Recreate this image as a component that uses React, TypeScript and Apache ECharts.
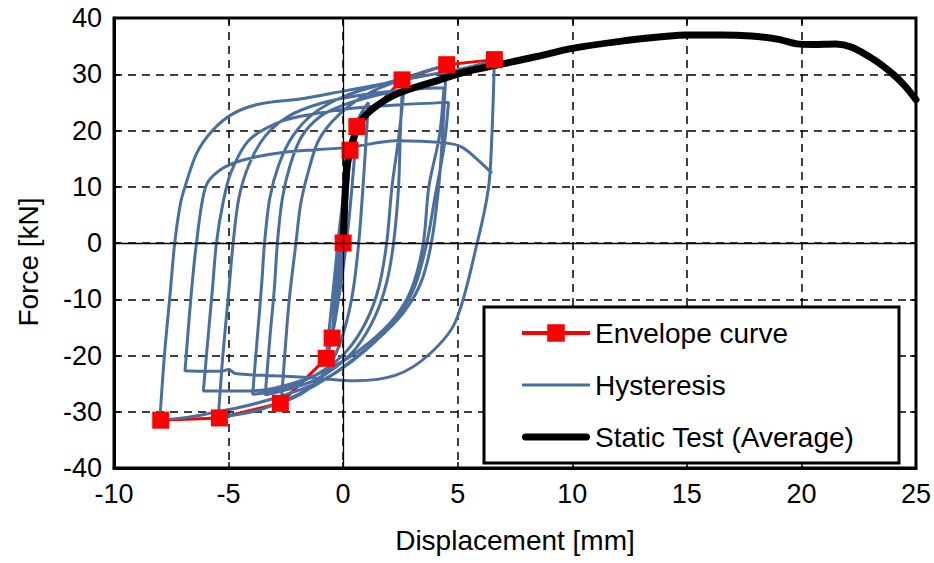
import React, { useEffect, useRef } from "react";
import * as echarts from "echarts";

type P = [number, number];

const xMin = -10;
const xMax = 25;
const xStep = 5;
const yMin = -40;
const yMax = 40;
const yStep = 10;

const envelope: P[] = [
  [-7.96, -31.5], [-5.4, -31.1], [-2.74, -28.5], [-0.74, -20.5], [-0.48, -16.9],
  [0, 0], [0.3, 16.5], [0.6, 20.7], [2.57, 29], [4.52, 31.7], [6.6, 32.6],
];

const staticTest: P[] = [
  [0, 0], [0.05, 5], [0.1, 10], [0.2, 14.5], [0.4, 18], [0.8, 21.8], [1.4, 24.2],
  [2.4, 26.6], [3.9, 28.6], [5.3, 30.4], [6.8, 31.7], [8.5, 33.2], [10, 34.6],
  [12, 35.8], [14, 36.7], [15, 37], [16.5, 37], [17.8, 36.8], [19, 36.2], [19.8, 35.4],
  [20.5, 35.3], [21.5, 35.4], [22.2, 34.8], [23.2, 32.5], [24, 30], [24.5, 28], [25, 25.5],
];

// Hysteresis branches (in test order)
const h1: P[] = [[0, 0], [0.08, 6], [0.18, 12], [0.3, 16.5]];
const h2: P[] = [[0.3, 16.5], [0.18, 9], [0.05, 2], [-0.1, -5], [-0.28, -11], [-0.48, -16.9]];
const h3: P[] = [[-0.48, -16.9], [-0.36, -10], [-0.22, -3], [-0.05, 4], [0.12, 10], [0.3, 15.5]];
const h4: P[] = [[0.3, 15.5], [0.15, 8], [0, 1], [-0.15, -5], [-0.3, -11], [-0.45, -15.5]];
const h5: P[] = [[-0.45, -15.5], [-0.3, -8], [-0.12, 0], [0.08, 8], [0.3, 14.5], [0.45, 18], [0.6, 20.7]];
const h6: P[] = [[0.6, 20.7], [0.45, 13], [0.25, 4], [0.05, -3], [-0.2, -10], [-0.45, -16], [-0.74, -20.5]];
const h7: P[] = [[-0.74, -20.5], [-0.55, -13], [-0.35, -5], [-0.15, 3], [0.1, 11], [0.35, 17.5], [0.65, 22], [1.1, 25]];
const h8: P[] = [[1.1, 25], [0.98, 17], [0.85, 9], [0.68, 0], [0.45, -8], [0.15, -14], [-0.3, -19.5], [-0.9, -23.5], [-1.7, -26.5], [-2.7, -28.5]];
const h9: P[] = [[-2.7, -28.5], [-2.55, -20], [-2.35, -10], [-2.06, 0], [-1.85, 7], [-1.5, 13], [-1.1, 18], [-0.5, 21.5], [0.3, 24.5], [1.2, 26.8], [2, 28.2], [2.6, 29]];
const h10: P[] = [[2.6, 29], [2.5, 20], [2.42, 10], [2.2, 0], [1.9, -7], [1.4, -13], [0.6, -18.5], [-0.3, -22], [-1.3, -24.5], [-2.4, -26], [-3.4, -27]];
const h11: P[] = [[-3.4, -27], [-3.2, -17], [-3.0, -8], [-2.87, 0], [-2.65, 8], [-2.3, 14], [-1.8, 19], [-1.0, 22.5], [0, 24.5], [1.2, 26], [2.1, 26.8], [2.65, 27]];
const h12: P[] = [[2.65, 27], [2.4, 18], [2.13, 10], [1.9, 0], [1.55, -8], [1.0, -14], [0.2, -19], [-0.8, -22.5], [-2, -25], [-3, -26.3], [-3.95, -26.9]];
const h13: P[] = [[-3.95, -26.9], [-3.75, -17], [-3.55, -7], [-3.43, 0], [-3.2, 8], [-2.8, 14], [-2.2, 19], [-1.3, 23], [0, 26], [1.5, 28], [2.8, 29.5], [3.8, 30.8], [4.5, 31.5]];
const h14: P[] = [[4.5, 31.5], [4.35, 20], [4.17, 10], [3.85, 0], [3.4, -7], [2.7, -12], [1.8, -16], [0.8, -19.5], [-0.5, -23.5], [-2, -27], [-3.5, -29.5], [-4.6, -30.5], [-5.45, -31]];
const h15: P[] = [[-5.45, -31], [-5.25, -20], [-5.0, -9], [-4.8, 0], [-4.55, 8], [-4.1, 14], [-3.4, 19], [-2.4, 22.5], [-1, 24.8], [0.8, 26.3], [2.5, 27.1], [3.6, 27.5], [4.4, 27.6]];
const h16: P[] = [[4.4, 27.6], [4.2, 19], [3.74, 10], [3.5, 0], [3.0, -8], [2.3, -13], [1.2, -17.5], [0, -21], [-1.5, -24], [-3, -25.8], [-4.1, -26.3], [-6.1, -26.3]];
const h17: P[] = [[-6.1, -26.3], [-5.9, -17], [-5.7, -8], [-5.53, 0], [-5.25, 7], [-4.9, 12.5], [-4.1, 18.3], [-2.65, 21.7], [-1.2, 23], [0.5, 24], [2.5, 24.6], [4.6, 25]];
const h18: P[] = [[4.6, 25], [4.4, 17], [4.0, 8], [3.65, 0], [3.1, -8], [2.2, -14], [1.0, -19], [-0.3, -23], [-1.5, -25.5], [-3, -27.6], [-4.5, -29.2], [-5.5, -30], [-6.8, -31], [-8, -31.5]];
const h19: P[] = [[-8, -31.5], [-7.8, -20], [-7.55, -9], [-7.35, 0], [-7.1, 7], [-6.9, 10], [-6.4, 15.9], [-5.7, 20], [-4.8, 23], [-3.65, 24.7], [-1.9, 25.6], [0, 27], [2, 28.5], [3.5, 29.7], [5, 30.8], [6, 31.8], [6.6, 32.6]];
const h20: P[] = [[6.6, 32.6], [6.5, 20], [6.35, 10], [5.85, 0], [4.9, -14], [3.7, -20], [2.3, -23.5], [0.5, -24.5], [-1.2, -24], [-3, -23.6], [-4.7, -23.2], [-5.0, -22.5], [-5.3, -22.8], [-6.9, -22.7]];
const h21: P[] = [[-6.9, -22.7], [-6.65, -10], [-6.4, 0], [-6.0, 10], [-5.4, 12.9], [-4.4, 14.7], [-2.65, 16.1], [0.26, 17], [2.3, 18.2], [4.46, 17.8], [5.2, 17], [5.9, 14.7], [6.5, 12.4]];

const branches: P[][] = [h1, h2, h3, h4, h5, h6, h7, h8, h9, h10, h11, h12, h13, h14, h15, h16, h17, h18, h19, h20, h21];
const hysteresis: P[] = branches.reduce<P[]>((acc, b, i) => acc.concat(i === 0 ? b : b.slice(1)), []);

const legendNames = ["Envelope curve", "Hysteresis", "Static Test (Average)"];

const FONT = "'Liberation Sans', Arial, sans-serif";

export default function App() {
  const ref = useRef<HTMLDivElement>(null);
  useEffect(() => {
    if (!ref.current) return;
    const chart = echarts.init(ref.current, null, { renderer: "svg" });
    const tickAxisCommon = {
      axisTick: { show: true, inside: true, length: 6, lineStyle: { color: "#000", width: 1.5 } },
    };
    chart.setOption({
      animation: false,
      backgroundColor: "#fff",
      textStyle: { fontFamily: FONT },
      grid: { left: 114, right: 17, top: 18, bottom: 95, show: true, borderColor: "#000", borderWidth: 3, backgroundColor: "transparent" },
      xAxis: [
        {
          type: "value", min: xMin, max: xMax, interval: xStep,
          name: "Displacement [mm]", nameLocation: "middle", nameGap: 58,
          nameTextStyle: { fontSize: 28, color: "#000", fontFamily: FONT },
          axisLine: { show: true, onZero: false, lineStyle: { color: "#000", width: 3 } },
          ...tickAxisCommon,
          axisLabel: { fontSize: 27, color: "#000", margin: 12, fontFamily: FONT },
          splitLine: { show: true, lineStyle: { color: "#000", width: 1.5, type: [8, 6] } },
        },
        {
          type: "value", min: xMin, max: xMax, interval: xStep, position: "top",
          axisLine: { show: false, onZero: false }, ...tickAxisCommon,
          axisLabel: { show: false }, splitLine: { show: false },
        },
      ],
      yAxis: [
        {
          type: "value", min: yMin, max: yMax, interval: yStep,
          axisLine: { show: true, onZero: false, lineStyle: { color: "#000", width: 3 } },
          ...tickAxisCommon,
          axisLabel: { fontSize: 27, color: "#000", margin: 12, fontFamily: FONT },
          splitLine: { show: true, lineStyle: { color: "#000", width: 1.5, type: [8, 6] } },
        },
        {
          type: "value", min: yMin, max: yMax, interval: yStep, position: "right",
          axisLine: { show: false, onZero: false }, ...tickAxisCommon,
          axisLabel: { show: false }, splitLine: { show: false },
        },
      ],
      graphic: [
        {
          type: "text", x: 28, y: 262, rotation: Math.PI / 2,
          style: { text: "Force [kN]", fontSize: 28, fill: "#000", fontFamily: FONT, textAlign: "center", textVerticalAlign: "middle" },
        },
        {
          type: "rect", z: 3,
          shape: { x: 484, y: 307, width: 415, height: 156 },
          style: { fill: "#fff", stroke: "#000", lineWidth: 3 },
        },
      ],
      legend: {
        orient: "vertical", left: 520, top: 319, padding: 0, itemGap: 24,
        itemWidth: 68, itemHeight: 22, z: 5,
        textStyle: { fontSize: 28, color: "#000", fontFamily: FONT },
        data: [
          { name: legendNames[0], lineStyle: { width: 4, color: "#ff0000" } },
          { name: legendNames[1], icon: "path://M0,0H68V3H0Z" },
          { name: legendNames[2], icon: "path://M3.5,0H64.5A3.5,3.5,0,0,1,64.5,7H3.5A3.5,3.5,0,0,1,3.5,0Z" },
        ],
      },
      series: [
        {
          name: legendNames[0], type: "line", data: envelope, symbol: "rect", symbolSize: 17,
          lineStyle: { color: "#ff0000", width: 3 }, itemStyle: { color: "#ff0000" },
          markLine: {
            silent: true, symbol: "none", label: { show: false },
            lineStyle: { color: "#000", width: 1.3, type: "solid" },
            data: [{ xAxis: 0 }, { yAxis: 0 }],
          },
        },
        {
          name: legendNames[1], type: "line", data: hysteresis, symbol: "none", smooth: 0.3,
          lineStyle: { color: "#4a6e9e", width: 3 }, itemStyle: { color: "#4a6e9e" },
        },
        {
          name: legendNames[2], type: "line", data: staticTest, symbol: "none", smooth: 0.3,
          lineStyle: { color: "#000", width: 7, cap: "round", join: "round" }, itemStyle: { color: "#000" },
        },
      ],
    });
    return () => chart.dispose();
  }, []);
  return <div ref={ref} style={{ position: "fixed", left: 0, top: 0, width: 934, height: 563 }} />;
}
